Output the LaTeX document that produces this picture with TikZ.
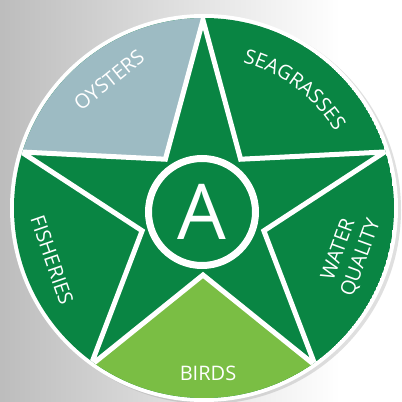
\documentclass[tikz,border=0pt]{standalone}
\usepackage{fontspec}
\setmainfont{Open Sans}
\usetikzlibrary{decorations.text, shadows, positioning}

\definecolor{leafgreen}{RGB}{9,133,67}
\definecolor{birdgreen}{RGB}{122,190,68}
\definecolor{oystergrey}{RGB}{157,187,195}

\tikzset{
  starline/.style={draw=white, line width=5pt, line join=miter},
  sectortext/.style={text=white, inner sep=0, font=\fontsize{20}{24}\selectfont},
}

\begin{document}
\begin{tikzpicture}[x=1pt, y=1pt]
\useasboundingbox (0,0) rectangle (402,402);
\fill[white] (0,0) rectangle (402,402);
\shade[left color=black!26, right color=white] (0,0) rectangle (340,402);

\begin{scope}[shift={(203,191)}]
\coordinate (rim) at (1,3);
\fill[white, drop shadow={opacity=0.25, shadow xshift=3pt, shadow yshift=-2pt}] (rim) circle (194);

\foreach \i in {0,...,4}{
  \coordinate (tip\i) at ({90+72*\i}:191);
  \coordinate (dip\i) at ({126+72*\i}:64);
}

\begin{scope}
\clip (rim) circle (190);
\fill[leafgreen] (rim) circle (190);
\fill[oystergrey] (tip0) -- (dip0) -- (tip1) -- (162:260) -- (90:260) -- cycle;
\fill[birdgreen] (tip2) -- (dip2) -- (tip3) -- (306:260) -- (234:260) -- cycle;
\draw[starline] (tip0) -- (dip0) -- (tip1) -- (dip1) -- (tip2) -- (dip2) -- (tip3) -- (dip3) -- (tip4) -- (dip4) -- cycle;
\end{scope}

\node[circle, fill=leafgreen, draw=white, line width=7pt, minimum size=107pt, inner sep=0,
  text=white, font=\fontsize{77}{77}\selectfont] (hub) at (-1,-1) {A};

\node[sectortext, rotate=39] (oysters) at (-94,131) {OYSTERS};
\node[sectortext, rotate=70, align=center] (water) at (147,-43) {WATER\\QUALITY};
\node[sectortext, rotate=-71] (fisheries) at (-151,-49) {FISHERIES};
\node[sectortext] (birds) at (5,-162) {BIRDS};
\path[decorate, decoration={text along path, text align=center,
  text={|\fontsize{20}{24}\selectfont\color{white}|SEAGRASSES}}]
  (82:154) arc[start angle=82, end angle=24, radius=154];
\end{scope}
\end{tikzpicture}
\end{document}
